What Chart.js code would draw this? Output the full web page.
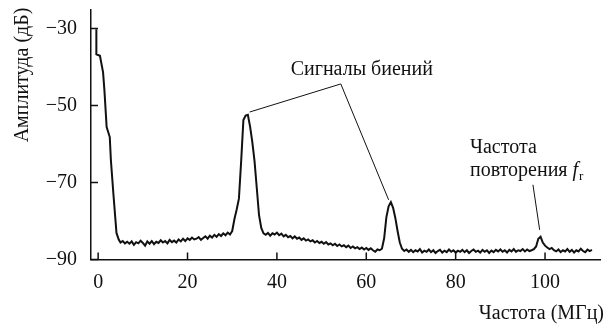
<!DOCTYPE html>
<html>
<head>
<meta charset="utf-8">
<script src="https://cdn.jsdelivr.net/npm/chart.js@4/dist/chart.umd.min.js"></script>
<style>
  html, body { margin: 0; padding: 0; background: #fff; }
  #wrap { width: 608px; height: 325px; position: relative; }
</style>
</head>
<body>
<div id="wrap"><canvas id="spectrum"></canvas></div>
<script>
// ---- data ----
const xTicks = [0, 20, 40, 60, 80, 100];
const yTicks = [-90, -70, -50, -30];

// first part of the trace, non-uniform (the steep drop near 0 MHz)
const headFreqs = [-0.4, -0.4, 0.4, 1.1, 1.4, 1.9, 2.6, 2.85, 3.4, 4.1, 4.6];
const headAmps = [-30.2, -36.7, -37.1, -41.4, -46.0, -55.6, -58.2, -64.2, -72.8, -83.1, -84.8];

// rest of the trace: 5.0 .. 110.5 MHz, every 0.5 MHz
const gridStart = 5.0;
const gridStep = 0.5;
const gridAmps = [
  -85.6, -85.2, -85.8, -85.4, -85.9, -85.3, -86.2, -85.5, -85.8, -85.1,  // 5
  -85.7, -86.4, -85.3, -85.9, -85.2, -86.0, -85.4, -85.7, -85.0, -85.6,  // 10
  -85.2, -85.8, -84.9, -85.5, -85.1, -85.6, -84.8, -85.3, -84.6, -85.2,  // 15
  -84.5, -84.9, -84.3, -84.8, -84.6, -84.2, -84.9, -84.4, -84.0, -84.6,  // 20
  -83.8, -84.3, -83.6, -84.1, -83.4, -83.9, -83.2, -83.7, -83.0, -83.5,  // 25
  -82.6, -79.5, -77.0, -74.2, -64.5, -53.8, -52.6, -52.4, -55.5, -59.5,  // 30
  -64.5, -71.5, -78.5, -81.8, -83.2, -83.6, -83.1, -83.8, -83.2, -83.5,  // 35
  -83.0, -83.7, -83.3, -84.0, -83.6, -84.2, -83.9, -84.5, -84.0, -84.6,  // 40
  -84.3, -84.9, -84.5, -85.1, -84.8, -85.3, -85.0, -85.6, -85.2, -85.7,  // 45
  -85.4, -85.9, -85.5, -86.1, -85.8, -86.3, -85.9, -86.5, -86.1, -86.6,  // 50
  -86.3, -86.8, -86.4, -87.0, -86.6, -87.1, -86.8, -87.3, -86.9, -87.4,  // 55
  -87.0, -87.5, -87.1, -87.6, -88.0, -87.4, -87.6, -87.2, -84.5, -79.0,  // 60
  -76.2, -75.1, -76.6, -79.2, -82.6, -85.6, -87.2, -87.8, -87.4, -88.0,  // 65
  -87.5, -88.1, -87.6, -87.9, -87.3, -88.2, -87.7, -88.0, -87.4, -88.1,  // 70
  -87.6, -88.3, -87.8, -87.5, -88.2, -87.7, -88.1, -87.4, -88.0, -87.6,  // 75
  -88.2, -87.7, -88.0, -87.5, -88.1, -87.6, -88.3, -87.8, -87.4, -88.0,  // 80
  -87.7, -88.2, -87.5, -88.0, -87.6, -88.3, -87.7, -88.1, -87.5, -87.9,  // 85
  -87.4, -88.0, -87.6, -88.2, -87.5, -87.9, -87.3, -88.0, -87.6, -87.8,  // 90
  -87.3, -87.9, -87.4, -87.8, -87.6, -87.3, -86.6, -84.6, -84.1, -85.6,  // 95
  -86.4, -86.9, -87.3, -87.0, -87.6, -87.9, -87.4, -88.1, -87.6, -87.9,  // 100
  -87.3, -88.0, -87.5, -88.2, -87.6, -87.9, -87.2, -87.8, -88.1, -87.4,  // 105
  -87.8, -87.5                                                           // 110
];

// annotations, in data units (MHz, dB)
const beatLabel = { text: 'Сигналы биений', x: 59.0, y: -42.1 };
const beatApex = { x: 54.3, y: -44.4 };
const beatPeaks = [{ x: 33.9, y: -51.7 }, { x: 65.0, y: -74.5 }];
const repLabel = { line1: 'Частота', line2: 'повторения ', x: 83.2, y1: -62.3, y2: -68.3 };
const repLeader = [{ x: 97.3, y: -70.6 }, { x: 98.8, y: -82.3 }];

const points = [];
headFreqs.forEach((f, i) => points.push({ x: f, y: headAmps[i] }));
gridAmps.forEach((a, i) => points.push({ x: gridStart + i * gridStep, y: a }));

// 20px (unscaled) is what comes out as serif here
const FAMILY = 'Liberation Serif';
const BASE = '20px ' + FAMILY;
const BASE_IT = 'italic 20px ' + FAMILY;
const SUB = '13px ' + FAMILY;
const INK = '#111';

function drawText(ctx, str, px, py, align, font) {
  ctx.font = font;
  ctx.textAlign = align;
  ctx.textBaseline = 'alphabetic';
  ctx.fillText(str, px, py);
}

const decor = {
  id: 'decor',
  afterDraw(chart) {
    const { ctx, scales: { x, y } } = chart;
    ctx.save();
    ctx.strokeStyle = INK;
    ctx.fillStyle = INK;

    // inward tick marks
    ctx.lineWidth = 1.5;
    ctx.beginPath();
    xTicks.forEach(v => {
      const px = x.getPixelForValue(v);
      ctx.moveTo(px, y.bottom);
      ctx.lineTo(px, y.bottom - 7);
    });
    yTicks.forEach(v => {
      const py = y.getPixelForValue(v);
      ctx.moveTo(x.left, py);
      ctx.lineTo(x.left + 7, py);
    });
    ctx.stroke();

    // leader lines
    ctx.lineWidth = 1;
    ctx.beginPath();
    ctx.moveTo(x.getPixelForValue(beatPeaks[0].x), y.getPixelForValue(beatPeaks[0].y));
    ctx.lineTo(x.getPixelForValue(beatApex.x), y.getPixelForValue(beatApex.y));
    ctx.lineTo(x.getPixelForValue(beatPeaks[1].x), y.getPixelForValue(beatPeaks[1].y));
    ctx.moveTo(x.getPixelForValue(repLeader[0].x), y.getPixelForValue(repLeader[0].y));
    ctx.lineTo(x.getPixelForValue(repLeader[1].x), y.getPixelForValue(repLeader[1].y));
    ctx.stroke();

    drawText(ctx, beatLabel.text, x.getPixelForValue(beatLabel.x), y.getPixelForValue(beatLabel.y), 'center', BASE);

    const rx = x.getPixelForValue(repLabel.x);
    drawText(ctx, repLabel.line1, rx, y.getPixelForValue(repLabel.y1), 'left', BASE);
    const by = y.getPixelForValue(repLabel.y2);
    drawText(ctx, repLabel.line2, rx, by, 'left', BASE);
    let cx = rx + ctx.measureText(repLabel.line2).width;
    drawText(ctx, 'f', cx, by, 'left', BASE_IT);
    cx += ctx.measureText('f').width + 1;
    drawText(ctx, 'r', cx, by + 4, 'left', SUB);

    // axis titles
    drawText(ctx, 'Частота (МГц)', 604, 319, 'right', BASE);

    ctx.translate(28, 75);
    ctx.rotate(-Math.PI / 2);
    drawText(ctx, 'Амплитуда (дБ)', 0, 0, 'center', BASE);

    ctx.restore();
  }
};

const fmt = v => (v < 0 ? '\u2212' + Math.abs(v) : String(v));

new Chart(document.getElementById('spectrum'), {
  type: 'line',
  data: {
    datasets: [{
      data: points,
      borderColor: INK,
      borderWidth: 2,
      pointRadius: 0,
      tension: 0,
      fill: false
    }]
  },
  options: {
    responsive: true,
    maintainAspectRatio: false,
    animation: false,
    layout: { padding: { top: 10, right: 8, left: 0, bottom: 0 } },
    plugins: { legend: { display: false }, tooltip: { enabled: false } },
    scales: {
      x: {
        type: 'linear',
        min: -1.6,
        max: 112.3,
        afterBuildTicks: s => { s.ticks = xTicks.map(v => ({ value: v })); },
        afterFit: s => { s.height = 65.5; s.paddingLeft = 0; s.paddingRight = 0; },
        grid: { display: false, drawTicks: false },
        border: { display: true, color: INK, width: 1.5 },
        ticks: { color: INK, padding: 11, maxRotation: 0, font: { family: FAMILY, size: 20 }, callback: v => fmt(v) }
      },
      y: {
        type: 'linear',
        min: -90,
        max: -25.2,
        afterBuildTicks: s => { s.ticks = yTicks.map(v => ({ value: v })); },
        afterFit: s => { s.width = 91; s.paddingTop = 0; s.paddingBottom = 0; },
        grid: { display: false, drawTicks: false },
        border: { display: true, color: INK, width: 1.5 },
        ticks: { color: INK, padding: 14, font: { family: FAMILY, size: 20 }, callback: v => fmt(v) }
      }
    }
  },
  plugins: [decor]
});
</script>
</body>
</html>
